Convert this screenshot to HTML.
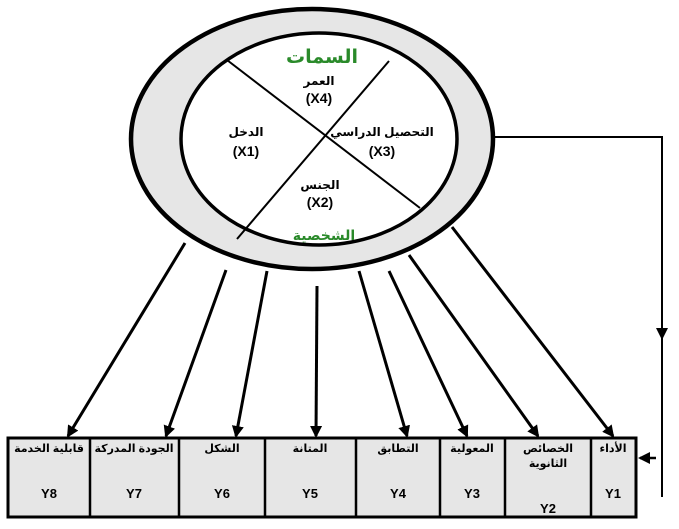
<!DOCTYPE html>
<html><head><meta charset="utf-8"><style>
body{margin:0;background:#fff;width:679px;height:529px;overflow:hidden}
svg{display:block}
text{font-family:"Liberation Sans","DejaVu Sans",sans-serif;font-weight:bold}
</style></head><body>
<svg width="679" height="529" viewBox="0 0 679 529" xmlns="http://www.w3.org/2000/svg">
<defs><marker id="a" markerWidth="12" markerHeight="12" refX="10" refY="6" orient="auto" markerUnits="userSpaceOnUse"><path d="M0,0 L12,6 L0,12 z" fill="#000"/></marker></defs>
<ellipse cx="312" cy="139" rx="181" ry="130" fill="#e6e6e6" stroke="#000" stroke-width="4.5"/>
<ellipse cx="319" cy="139" rx="138" ry="106" fill="#fff" stroke="#000" stroke-width="3.5"/>
<line x1="227" y1="60" x2="420" y2="208" stroke="#000" stroke-width="2"/>
<line x1="389" y1="61" x2="237" y2="239" stroke="#000" stroke-width="2"/>
<text x="322" y="63" font-size="19" fill="#2a8a2a" text-anchor="middle">السمات</text>
<text x="324" y="240" font-size="14" fill="#2a8a2a" text-anchor="middle">الشخصية</text>
<g font-size="12" text-anchor="middle">
<text x="319" y="85">العمر</text><text x="319" y="103" font-size="14">(X4)</text>
<text x="246" y="136">الدخل</text><text x="246" y="156" font-size="14">(X1)</text>
<text x="382" y="136">التحصيل الدراسي</text><text x="382" y="156" font-size="14">(X3)</text>
<text x="320" y="189">الجنس</text><text x="320" y="207" font-size="14">(X2)</text>
</g>
<polyline points="492,137 662,137 662,497" fill="none" stroke="#000" stroke-width="2"/>
<line x1="662" y1="300" x2="662" y2="338" stroke="#000" stroke-width="2" marker-end="url(#a)"/>
<line x1="656" y1="458" x2="640" y2="458" stroke="#000" stroke-width="2.5" marker-end="url(#a)"/>
<g stroke="#000" stroke-width="3" marker-end="url(#a)">
<line x1="185" y1="243" x2="68" y2="436"/>
<line x1="226" y1="270" x2="166" y2="436"/>
<line x1="267" y1="271" x2="236" y2="436"/>
<line x1="317" y1="286" x2="316" y2="436"/>
<line x1="359" y1="271" x2="407" y2="436"/>
<line x1="389" y1="271" x2="467" y2="436"/>
<line x1="409" y1="255" x2="538" y2="436"/>
<line x1="452" y1="227" x2="613" y2="436"/>
</g>
<rect x="8" y="438" width="628" height="79" fill="#e6e6e6" stroke="#000" stroke-width="3"/>
<g stroke="#000" stroke-width="2.5">
<line x1="90" y1="438" x2="90" y2="517"/><line x1="179" y1="438" x2="179" y2="517"/>
<line x1="265" y1="438" x2="265" y2="517"/><line x1="356" y1="438" x2="356" y2="517"/>
<line x1="440" y1="438" x2="440" y2="517"/><line x1="505" y1="438" x2="505" y2="517"/>
<line x1="591" y1="438" x2="591" y2="517"/>
</g>
<g font-size="11" text-anchor="middle">
<text x="49" y="452">قابلية الخدمة</text><text x="134" y="452">الجودة المدركة</text>
<text x="222" y="452">الشكل</text><text x="310" y="452">المتانة</text>
<text x="398" y="452">التطابق</text><text x="472" y="452">المعولية</text>
<text x="548" y="452">الخصائص</text><text x="548" y="467">الثانوية</text>
<text x="613" y="452">الأداء</text>
</g>
<g font-size="13" text-anchor="middle">
<text x="49" y="498">Y8</text><text x="134" y="498">Y7</text><text x="222" y="498">Y6</text>
<text x="310" y="498">Y5</text><text x="398" y="498">Y4</text><text x="472" y="498">Y3</text>
<text x="548" y="513">Y2</text><text x="613" y="498">Y1</text>
</g>
</svg>
</body></html>
